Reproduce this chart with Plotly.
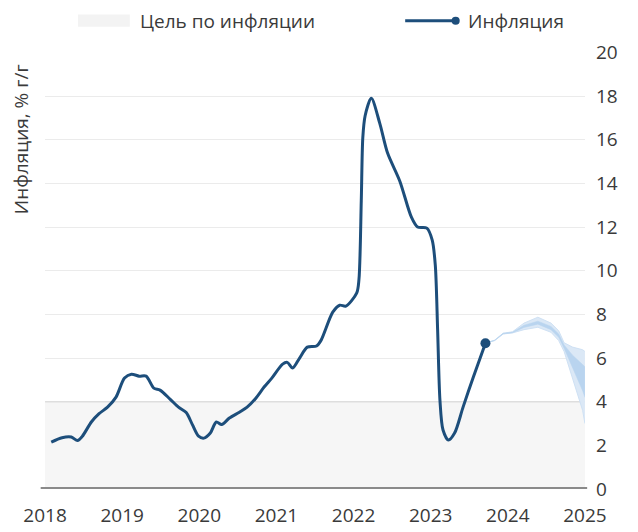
import plotly.graph_objects as go

# Inflation, % y/y (decimal year, value)
infl_x = [2018.08, 2018.22, 2018.34, 2018.42, 2018.48, 2018.60, 2018.70, 2018.81, 2018.92,
          2019.03, 2019.12, 2019.22, 2019.31, 2019.41, 2019.49, 2019.62, 2019.73, 2019.83,
          2019.91, 2019.99, 2020.06, 2020.14, 2020.22, 2020.29, 2020.39, 2020.52, 2020.62,
          2020.73, 2020.84, 2020.94, 2021.08, 2021.14, 2021.21, 2021.30, 2021.40, 2021.52,
          2021.58, 2021.73, 2021.82, 2021.90, 2022.04, 2022.07, 2022.10, 2022.12, 2022.15,
          2022.23, 2022.34, 2022.44, 2022.60, 2022.75, 2022.83, 2022.95, 2023.02, 2023.06,
          2023.09, 2023.12, 2023.16, 2023.23, 2023.31, 2023.42, 2023.55, 2023.71]
infl_y = [2.15, 2.35, 2.38, 2.22, 2.40, 3.07, 3.45, 3.75, 4.21,
          5.08, 5.26, 5.17, 5.17, 4.62, 4.53, 4.12, 3.75, 3.50,
          2.95, 2.42, 2.33, 2.55, 3.07, 2.95, 3.25, 3.52, 3.75,
          4.15, 4.67, 5.08, 5.72, 5.80, 5.54, 6.00, 6.50, 6.55,
          6.82, 8.10, 8.42, 8.38, 8.97, 9.60, 13.20, 16.10, 17.10,
          17.90, 16.75, 15.40, 14.10, 12.45, 12.00, 11.95, 11.40, 10.25,
          7.30, 4.07, 2.70, 2.24, 2.56, 3.75, 5.10, 6.68]

# Forecast bands
fc_x = [2023.71, 2023.83, 2023.94, 2024.06, 2024.21, 2024.39, 2024.56, 2024.66, 2024.73,
        2024.84, 2024.97, 2025.00]
outer_hi = [6.68, 6.82, 7.14, 7.20, 7.60, 7.87, 7.60, 7.25, 6.70, 6.50, 6.38, 6.30]
outer_lo = [6.68, 6.80, 7.10, 7.15, 7.30, 7.41, 7.18, 6.80, 6.30, 5.08, 3.60, 3.00]
inner_hi = [6.68, 6.81, 7.13, 7.18, 7.50, 7.69, 7.45, 7.10, 6.60, 6.13, 5.70, 5.60]
inner_lo = [6.68, 6.81, 7.11, 7.16, 7.40, 7.55, 7.30, 6.95, 6.45, 5.58, 4.50, 4.20]

# Inflation target band
target_x = [2018, 2025]
target_y = [4, 4]

years = [2018, 2019, 2020, 2021, 2022, 2023, 2024, 2025]
y_ticks = [0, 2, 4, 6, 8, 10, 12, 14, 16, 18, 20]

TEXT = "#3a3a3a"
LINE = "#1d4e7b"
FONT = "Open Sans, Lato, sans-serif"

fig = go.Figure()

fig.add_trace(go.Scatter(x=target_x, y=target_y, mode="lines", fill="tozeroy",
                         fillcolor="#f6f6f6", line=dict(color="#dedede", width=1.5),
                         hoverinfo="skip", showlegend=False))

fig.add_trace(go.Scatter(x=fc_x, y=outer_lo, mode="lines", line=dict(color="#cfe1f4", width=1),
                         showlegend=False, hoverinfo="skip"))
fig.add_trace(go.Scatter(x=fc_x, y=outer_hi, mode="lines", line=dict(color="#cfe1f4", width=1),
                         fill="tonexty", fillcolor="#dbe8f6", showlegend=False, hoverinfo="skip"))
fig.add_trace(go.Scatter(x=fc_x, y=inner_lo, mode="lines", line=dict(color="#b9d4ef", width=0.5),
                         showlegend=False, hoverinfo="skip"))
fig.add_trace(go.Scatter(x=fc_x, y=inner_hi, mode="lines", line=dict(color="#b9d4ef", width=0.5),
                         fill="tonexty", fillcolor="#b9d4ef", showlegend=False, hoverinfo="skip"))

fig.add_trace(go.Scatter(x=infl_x, y=infl_y, mode="lines",
                         line=dict(color=LINE, width=3, shape="spline", smoothing=0.8),
                         showlegend=False))
fig.add_trace(go.Scatter(x=[infl_x[-1]], y=[infl_y[-1]], mode="markers",
                         marker=dict(color=LINE, size=10), showlegend=False))

# zero line
fig.add_shape(type="line", xref="paper", yref="y", x0=-0.008, x1=1.004, y0=0, y1=0,
              line=dict(color="#8a8a8a", width=4))

# manual legend
LEG_Y = 1.0715
fig.add_shape(type="rect", xref="paper", yref="paper", x0=0.061, x1=0.157, y0=1.058, y1=1.086,
              fillcolor="#f3f3f3", line=dict(width=0))
fig.add_annotation(xref="paper", yref="paper", x=0.174, y=LEG_Y, xanchor="left", yanchor="middle",
                   text="Цель по инфляции", showarrow=False, borderpad=0,
                   font=dict(size=19, color=TEXT, family=FONT))
fig.add_shape(type="line", xref="paper", yref="paper", x0=0.667, x1=0.760, y0=LEG_Y, y1=LEG_Y,
              line=dict(color=LINE, width=3))
fig.add_shape(type="circle", xref="paper", yref="paper", x0=0.753, x1=0.768,
              y0=LEG_Y - 0.009, y1=LEG_Y + 0.009, fillcolor=LINE, line=dict(width=0))
fig.add_annotation(xref="paper", yref="paper", x=0.781, y=LEG_Y, xanchor="left", yanchor="middle",
                   text="Инфляция", showarrow=False, borderpad=0,
                   font=dict(size=19, color=TEXT, family=FONT))

# y axis title
fig.add_annotation(xref="paper", yref="paper", x=-0.043, y=0.80, textangle=-90,
                   text="Инфляция, % г/г", showarrow=False, xanchor="center", yanchor="middle",
                   font=dict(size=19, color=TEXT, family=FONT))

fig.update_layout(
    width=638, height=532,
    margin=dict(l=37, r=61, t=44, b=51, autoexpand=False),
    paper_bgcolor="white", plot_bgcolor="white",
    font=dict(family=FONT, size=19, color=TEXT),
    showlegend=False,
)
fig.update_xaxes(range=[2017.999, 2025.001], tickmode="array", tickvals=years,
                 ticktext=[str(y) for y in years], showgrid=False, zeroline=False,
                 showline=False, ticks="", ticklabelstandoff=13, automargin=False,
                 tickfont=dict(size=19, color=TEXT))
fig.update_yaxes(range=[0, 20.02], tickmode="array", tickvals=y_ticks, side="right",
                 showgrid=True, gridcolor="#ebebeb", gridwidth=1, zeroline=False,
                 showline=False, ticks="", ticklabelstandoff=10, automargin=False,
                 tickfont=dict(size=19, color=TEXT))

fig.write_html("out.html")
